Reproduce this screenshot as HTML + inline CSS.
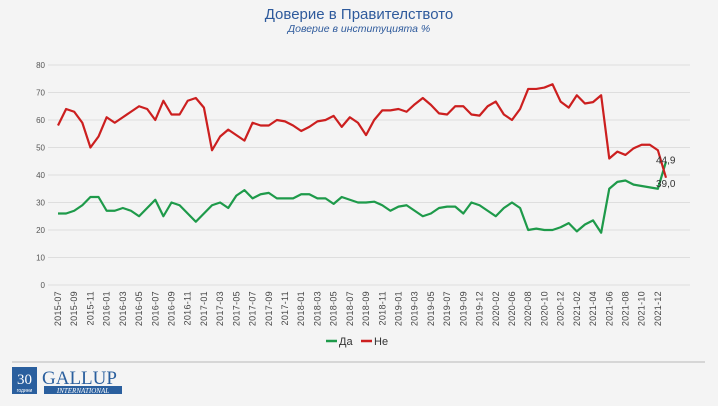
<!DOCTYPE html>
<html><head><meta charset="utf-8"><style>
body{margin:0;background:#f4f4f4;font-family:"Liberation Sans",sans-serif;}
#wrap{position:relative;width:718px;height:406px;overflow:hidden;background:#f4f4f4;}
</style></head><body>
<div id="wrap">
<svg id="chart" width="718" height="406">
<text x="359" y="19" text-anchor="middle" font-size="15" fill="#2e5a9c">Доверие в Правителството</text>
<text x="359" y="32" text-anchor="middle" font-size="10.5" font-style="italic" fill="#2e5a9c">Доверие в институцията %</text>
<g id="grid"></g><g id="xt"></g><g id="lines"></g>
<g>
<line x1="326" y1="341" x2="337" y2="341" stroke="#1e9a4a" stroke-width="2.5"/>
<text x="339" y="345" font-size="11" fill="#333">Да</text>
<line x1="361" y1="341" x2="372" y2="341" stroke="#cc1f1f" stroke-width="2.5"/>
<text x="374" y="345" font-size="11" fill="#333">Не</text>
</g>
<line x1="12" y1="362" x2="705" y2="362" stroke="#ccc" stroke-width="1.5"/>
<g>
<rect x="12" y="367" width="25" height="27" fill="#2a5f9e"/>
<text x="24.5" y="384" text-anchor="middle" font-family="Liberation Serif" font-size="15" fill="#fff">30</text>
<text x="24.5" y="392" text-anchor="middle" font-size="5" fill="#fff">години</text>
<text x="42" y="384" font-family="Liberation Serif" font-size="19" fill="#2a5f9e">GALLUP</text>
<rect x="44" y="386" width="78" height="8" fill="#2a5f9e"/>
<text x="83" y="393" text-anchor="middle" font-family="Liberation Serif" font-style="italic" font-size="7" fill="#fff">INTERNATIONAL</text>
</g>
</svg>
</div>
<script>
const tickLabels=["2015-07","2015-09","2015-11","2016-01","2016-03","2016-05","2016-07","2016-09","2016-11","2017-01","2017-03","2017-05","2017-07","2017-09","2017-11","2018-01","2018-03","2018-05","2018-07","2018-09","2018-11","2019-01","2019-03","2019-05","2019-07","2019-09","2019-12","2020-02","2020-06","2020-08","2020-10","2020-12","2021-02","2021-04","2021-06","2021-08","2021-10","2021-12"];
const seriesDa=[26,26,27,29,32,32,27,27,28,27,25,28,31,25,30,29,26,23,26,29,30,28,32.5,34.5,31.5,33,33.5,31.5,31.5,31.5,33,33,31.5,31.5,29.5,32,31,30,30,30.3,29,27,28.5,29,27,25,26,28,28.5,28.5,26,30,29,27,25,28,30,28,20,20.5,20,20,21,22.5,19.5,22,23.5,19,35,37.5,38,36.5,36,35.5,35,44.9];
const seriesNe=[58,64,63,59,50,54,61,59,61,63,65,64,60,67,62,62,67,68,64.5,49,54,56.5,54.5,52.5,59,58,58,60,59.5,58,56,57.5,59.5,60,61.5,57.5,61,59,54.5,60,63.5,63.5,64,63,65.7,68,65.5,62.4,62,65,65,62,61.6,65,66.7,62,60,64,71.3,71.3,71.8,73,66.7,64.5,69,66,66.5,69,46,48.5,47.3,49.7,51,51,49,39];
const yTicks=[0,10,20,30,40,50,60,70,80];
const NS="http://www.w3.org/2000/svg";
const X0=58,X1=666,Y0=285,Y1=65,N=seriesDa.length;
const xs=i=>X0+(X1-X0)*i/(N-1);
const ys=v=>Y0-(Y0-Y1)*v/80;
function mk(t,a,p){const e=document.createElementNS(NS,t);for(const k in a)e.setAttribute(k,a[k]);p.appendChild(e);return e;}
const grid=document.getElementById('grid');
yTicks.forEach(v=>{
 const l=mk('line',{x1:48,x2:690,y1:ys(v),y2:ys(v),stroke:'#dedede','stroke-width':1},grid);
 
 
 const t=mk('text',{x:45,y:ys(v)+3,'text-anchor':'end','font-size':8,fill:'#555'},grid);
 t.textContent=v;
 
 
});
const xt=document.getElementById('xt');
tickLabels.forEach((s,k)=>{
 if(k*2>=N)return;
 const x=xs(k*2);
 const t=mk('text',{transform:`translate(${x+3},${291}) rotate(-90)`,'text-anchor':'end','font-size':9,fill:'#444','letter-spacing':'0.3'},xt);
 t.textContent=s;
 
 
});
const lines=document.getElementById('lines');
[[seriesDa,'#1e9a4a','series-da'],[seriesNe,'#cc1f1f','series-ne']].forEach(([d,c,n])=>{
 const p=mk('polyline',{points:d.map((v,i)=>xs(i)+','+ys(v)).join(' '),fill:'none',stroke:c,'stroke-width':2.2,'stroke-linejoin':'round'},lines);
 
 
});
const lastDa=seriesDa[N-1],lastNe=seriesNe[N-1];
const t1=mk('text',{x:xs(N-1)-10,y:ys(lastDa)+2,'font-size':10,fill:'#333'},lines);
t1.textContent=lastDa.toFixed(1).replace('.',',');


const t2=mk('text',{x:xs(N-1)-10,y:ys(lastNe)+9,'font-size':10,fill:'#333'},lines);
t2.textContent=lastNe.toFixed(1).replace('.',',');


</script>
</body></html>
